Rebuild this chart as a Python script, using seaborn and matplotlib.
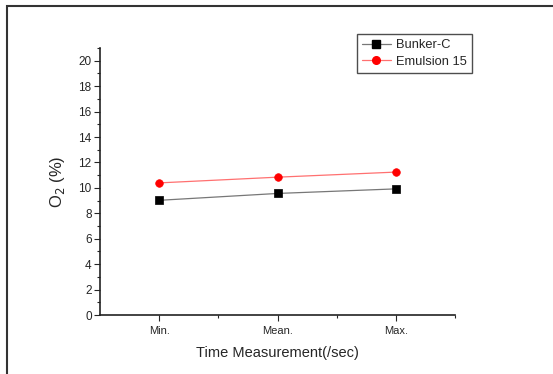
import matplotlib
matplotlib.use("Agg")
import matplotlib.pyplot as plt
import seaborn as sns
import pandas as pd
from matplotlib.ticker import MultipleLocator, FixedLocator
from matplotlib.patches import Rectangle
from matplotlib.lines import Line2D

categories = ["Min.", "Mean.", "Max."]
bunker_c = [9.02, 9.56, 9.92]
emulsion_15 = [10.39, 10.84, 11.24]
series_names = ["Bunker-C", "Emulsion 15"]

sns.set_style("ticks")
plt.rcParams['font.family'] = ['Liberation Sans', 'DejaVu Sans']

df = pd.DataFrame({
    "x": list(range(len(categories))) * 2,
    "y": bunker_c + emulsion_15,
    "series": [series_names[0]] * 3 + [series_names[1]] * 3,
})

fig = plt.figure(figsize=(5.53, 3.74), dpi=100)
ax = fig.add_axes([100 / 553, 1 - 315 / 374, (455 - 100) / 553, (315 - 48) / 374])

line_colors = {"Bunker-C": "#777777", "Emulsion 15": "#ff7070"}
marker_colors = {"Bunker-C": "black", "Emulsion 15": "red"}
markers = {"Bunker-C": "s", "Emulsion 15": "o"}

for name in series_names:
    sub = df[df.series == name]
    sns.lineplot(data=sub, x="x", y="y", ax=ax, color=line_colors[name], linewidth=0.9,
                 marker=None, legend=False)
    ax.scatter(sub.x, sub.y, marker=markers[name], s=30, color=marker_colors[name],
               edgecolors=marker_colors[name], zorder=3, linewidths=0.5)

ax.set_xlim(-0.5, 2.5)
ax.set_ylim(0, 21)
ax.set_xticks(range(len(categories)))
ax.set_xticklabels(categories, fontsize=8)
ax.xaxis.set_minor_locator(FixedLocator([0.5, 1.5, 2.5]))
ax.yaxis.set_major_locator(MultipleLocator(2))
ax.yaxis.set_minor_locator(MultipleLocator(1))
ax.tick_params(axis="y", labelsize=8.5, length=4, width=0.8, direction="out", pad=2)
ax.tick_params(axis="x", length=4, width=0.8, direction="out", pad=4)
ax.tick_params(which="minor", length=2.5, width=0.8, direction="out")
for s in ["top", "right"]:
    ax.spines[s].set_visible(False)
for s in ["left", "bottom"]:
    ax.spines[s].set_linewidth(1.2)
    ax.spines[s].set_color("#222222")

ax.set_xlabel("Time Measurement(/sec)", fontsize=10.5, labelpad=7)
ax.set_ylabel("O$_2$ (%)", fontsize=12, labelpad=8)
ax.set_facecolor("white")

handles = [Line2D([0], [0], color=line_colors[n], marker=markers[n], markersize=5.5,
                  markerfacecolor=marker_colors[n], markeredgecolor=marker_colors[n], linewidth=0.9)
           for n in series_names]
leg = ax.legend(handles, series_names, loc="upper left", bbox_to_anchor=(357 / 553, 1 - 34 / 374),
                bbox_transform=fig.transFigure, fontsize=9.3, frameon=True, fancybox=False,
                edgecolor="#222222", handlelength=2.2, handletextpad=0.4, borderpad=0.4,
                labelspacing=0.35, borderaxespad=0)
leg.get_frame().set_linewidth(1.0)

fig.patches.append(Rectangle((7 / 553, -0.1), 1.2, (1 - 6 / 374) + 0.1, transform=fig.transFigure,
                             fill=False, edgecolor="#333333", linewidth=1.5))

fig.savefig("out.png", dpi=100, facecolor="white")
